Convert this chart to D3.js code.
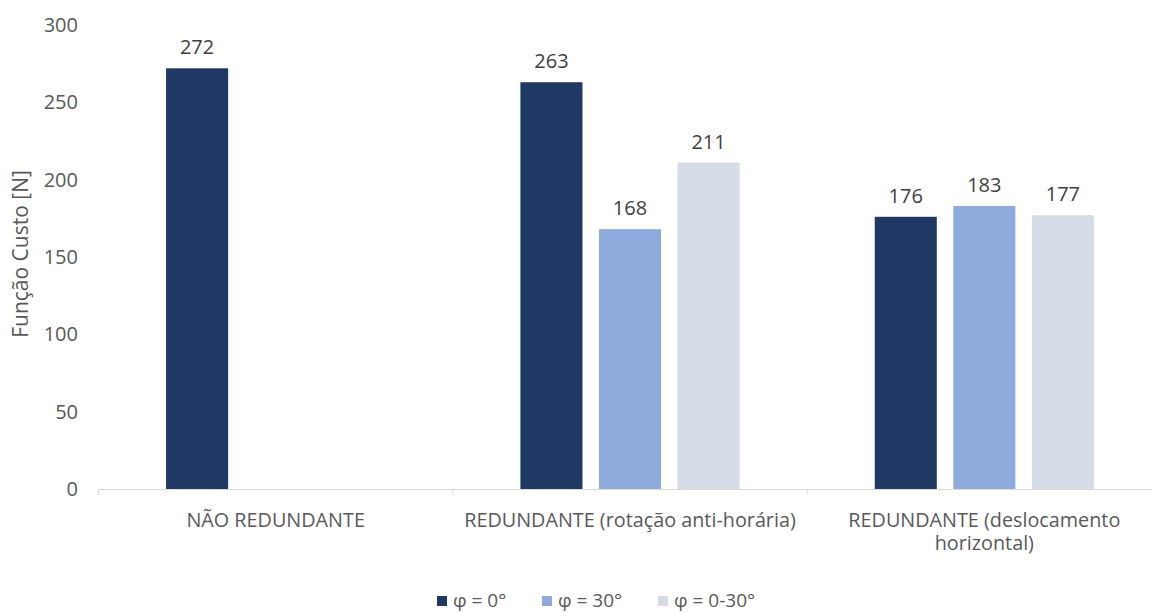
<!DOCTYPE html>
<html>
<head>
<meta charset="utf-8">
<script src="https://cdn.jsdelivr.net/npm/d3@7"></script>
<style>
  body { margin: 0; background: #fff; }
  text { font-family: "Open Sans", "Noto Sans", sans-serif; }
</style>
</head>
<body>
<script>
// data
const categories = ["NÃO REDUNDANTE", "REDUNDANTE (rotação anti-horária)", "REDUNDANTE (deslocamento horizontal)"];
const seriesNames = ["φ = 0°", "φ = 30°", "φ = 0-30°"];
const phi0 = [272, 263, 176];
const phi30 = [null, 168, 183];
const phi0to30 = [null, 211, 177];
const yTicks = [0, 50, 100, 150, 200, 250, 300];
const colors = ["#203864", "#8FAADC", "#D6DCE5"];

const width = 1152;
const height = 613;

// rows for drawing
const allSeries = [phi0, phi30, phi0to30];
const bars = [];
categories.forEach((c, i) => {
    seriesNames.forEach((s, j) => {
        if (allSeries[j][i] != null) bars.push({ cat: c, series: s, value: allSeries[j][i] });
    });
});

// scales
const xScale = d3.scaleBand()
    .domain(categories)
    .range([98.5, 1161.5]);

const xInner = d3.scaleBand()
    .domain(seriesNames)
    .range([0, xScale.bandwidth()])
    .paddingInner(0.21)
    .paddingOuter(0.86);

const yScale = d3.scaleLinear()
    .domain([0, 300])
    .range([489, 25]);

const color = d3.scaleOrdinal().domain(seriesNames).range(colors);

const svg = d3.select("body")
    .append("svg")
    .attr("width", width)
    .attr("height", height);

// bars
svg.selectAll("rect.bar")
    .data(bars)
    .enter()
    .append("rect")
    .attr("class", "bar")
    .attr("x", d => xScale(d.cat) + xInner(d.series))
    .attr("y", d => yScale(d.value))
    .attr("width", xInner.bandwidth())
    .attr("height", d => yScale(0) - yScale(d.value))
    .attr("fill", d => color(d.series));

// value labels
svg.selectAll("text.val")
    .data(bars)
    .enter()
    .append("text")
    .attr("class", "val")
    .attr("x", d => xScale(d.cat) + xInner(d.series) + xInner.bandwidth() / 2)
    .attr("y", d => yScale(d.value) - 14)
    .attr("text-anchor", "middle")
    .attr("font-size", 20)
    .attr("fill", "#404040")
    .text(d => d.value);

// bottom axis
const bottomAxis = d3.axisBottom(xScale).tickSize(0).tickFormat("");
const gx = svg.append("g")
    .attr("transform", "translate(0," + yScale(0) + ")")
    .call(bottomAxis);
gx.select(".domain").attr("stroke", "#d9d9d9");

// category divider ticks
const edges = categories.map(c => xScale(c)).concat([xScale.range()[1]]);
gx.selectAll("line.div")
    .data(edges)
    .enter()
    .append("line")
    .attr("class", "div")
    .attr("x1", d => d).attr("x2", d => d)
    .attr("y1", 0).attr("y2", 6)
    .attr("stroke", "#d9d9d9");

// category labels, wrapped to band width
const labelWidth = xScale.bandwidth() - 10;
categories.forEach(c => {
    const cx = xScale(c) + xScale.bandwidth() / 2;
    const t = svg.append("text")
        .attr("x", cx)
        .attr("y", yScale(0) + 38)
        .attr("text-anchor", "middle")
        .attr("font-size", 19.8)
        .attr("fill", "#595959");
    const words = c.split(" ");
    let line = [];
    let ts = t.append("tspan").attr("x", cx);
    words.forEach(w => {
        line.push(w);
        ts.text(line.join(" "));
        if (ts.node().getComputedTextLength() > labelWidth && line.length > 1) {
            line.pop();
            ts.text(line.join(" "));
            line = [w];
            ts = t.append("tspan")
                .attr("x", cx)
                .attr("dy", 23)
                .text(w);
        }
    });
});

// left axis (labels only)
const leftAxis = d3.axisLeft(yScale).tickValues(yTicks).tickSize(0).tickPadding(20);
const gy = svg.append("g")
    .attr("transform", "translate(98,0)")
    .call(leftAxis);
gy.select(".domain").remove();
gy.selectAll("text")
    .attr("font-size", 20)
    .attr("font-family", "Open Sans, sans-serif")
    .attr("fill", "#595959");

// y axis title
svg.append("text")
    .attr("transform", "translate(28,254) rotate(-90)")
    .attr("text-anchor", "middle")
    .attr("font-size", 21)
    .attr("fill", "#595959")
    .text("Função Custo [N]");

// legend
const legendX = [437, 542, 658];
const legend = svg.selectAll("g.leg")
    .data(seriesNames)
    .enter()
    .append("g")
    .attr("class", "leg")
    .attr("transform", (d, i) => "translate(" + legendX[i] + ",601)");
legend.append("rect")
    .attr("x", 0).attr("y", -5)
    .attr("width", 10).attr("height", 10)
    .attr("fill", d => color(d));
legend.append("text")
    .attr("x", 16).attr("y", 6)
    .attr("font-size", 19)
    .attr("fill", "#595959")
    .text(d => d);
</script>
</body>
</html>
